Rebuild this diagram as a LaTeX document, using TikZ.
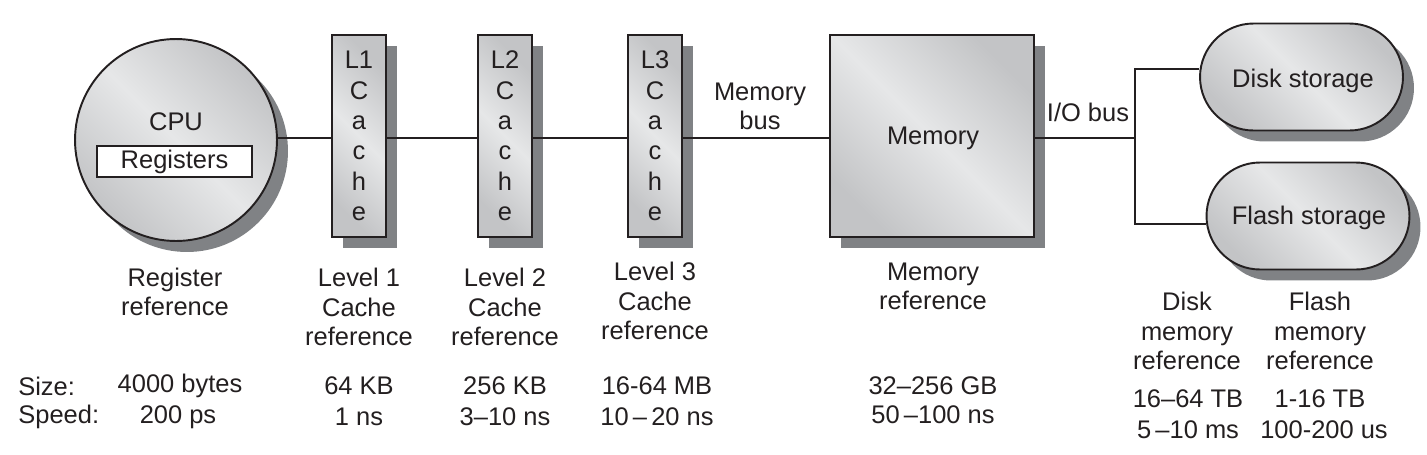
\documentclass[tikz,border=0pt]{standalone}
\usepackage{fontspec}
\setmainfont{Liberation Sans}
\usetikzlibrary{shadows,shapes.misc}
\definecolor{ink}{HTML}{231F20}
\definecolor{shd}{HTML}{808285}
\definecolor{gA}{HTML}{C3C4C6}
\definecolor{gB}{HTML}{E6E7E8}
\begin{document}
\begin{tikzpicture}[x=0.02cm,y=-0.02cm,
  every node/.style={font=\fontsize{14.5}{17.3}\selectfont, text=ink, align=center, inner sep=0pt},
  gshade/.style={draw=ink, line width=1.1pt, left color=gA, right color=gA, middle color=gB, shading angle=135,
    drop shadow={shadow xshift=0.22cm, shadow yshift=-0.22cm, fill=shd, opacity=1}},
  cachebox/.style={gshade, rectangle, minimum width=1.08cm, minimum height=4.04cm},
  storage/.style={gshade, rounded rectangle, minimum width=4.06cm, minimum height=2.14cm},
  wire/.style={draw=ink, line width=1.4pt},
  lbl/.style={font=\fontsize{14.5}{16.6}\selectfont}]
\useasboundingbox (0,0) rectangle (1427,454);
\coordinate (jt) at (1135,69);
\coordinate (jb) at (1135,224);
\coordinate (jm) at (1135,138);
% shapes
\node[gshade, circle, minimum size=4.04cm] (cpu) at (176,140) {};
\node at (176,122) {CPU};
\node[draw=ink, fill=white, line width=1.1pt, minimum width=3.1cm, minimum height=0.62cm] (reg) at (174.5,161.5) {Registers};
\node[cachebox] (l1) at (359,136) {L1\\C\\a\\c\\h\\e};
\node[cachebox] (l2) at (505,136) {L2\\C\\a\\c\\h\\e};
\node[cachebox] (l3) at (655,136) {L3\\C\\a\\c\\h\\e};
\node[gshade, rectangle, minimum width=4.08cm, minimum height=4.04cm] (mem) at (932,136) {};
\node at (933,138) {Memory};
\node[storage] (disk) at (1301.5,77) {};
\node at (1303,81) {Disk storage};
\node[storage] (flash) at (1308,216) {};
\node at (1309,218) {Flash storage};
% wires
\draw[wire] (cpu.east |- 0,138) -- (l1.west |- 0,138);
\draw[wire] (l1.east |- 0,138) -- (l2.west |- 0,138);
\draw[wire] (l2.east |- 0,138) -- (l3.west |- 0,138);
\draw[wire] (l3.east |- 0,138) -- (mem.west |- 0,138);
\draw[wire] (mem.east |- jm) -- (jm);
\draw[wire] (jt -| disk.west) -- (jt) -- (jb) -- (jb -| flash.west);
% bus labels
\node[lbl] (mbus) at (760,106) {Memory\\bus};
\node[lbl] (iobus) at (1088,112) {I/O bus};
% reference labels
\node[lbl] (rr) at (175,292) {Register\\reference};
\node[lbl] (r1) at (359,307) {Level 1\\Cache\\reference};
\node[lbl] (r2) at (505,307) {Level 2\\Cache\\reference};
\node[lbl] (r3) at (655,301) {Level 3\\Cache\\reference};
\node[lbl] (rm) at (933,286) {Memory\\reference};
\node[lbl] (rd) at (1187,331) {Disk\\memory\\reference};
\node[lbl] (rf) at (1320,331) {Flash\\memory\\reference};
% size / speed
\node[anchor=west] (size) at (18,386) {Size:};
\node[anchor=west] (speed) at (18,417) {Speed:};
\node (s0) at (180,386) {4000 bytes};
\node (v0) at (178,417) {200 ps};
\node (s1) at (359,386) {64 KB};
\node (v1) at (359,417) {1 ns};
\node (s2) at (505,386) {256 KB};
\node (v2) at (505,417) {3–10 ns};
\node (s3) at (657,386) {16-64 MB};
\node (v3) at (657,417) {10\,–\,20 ns};
\node (s4) at (933,386) {32–256 GB};
\node (v4) at (933,415) {50\,–100 ns};
\node (s5) at (1188,399) {16–64 TB};
\node (v5) at (1188,430) {5\,–10 ms};
\node (s6) at (1320,399) {1-16 TB};
\node (v6) at (1324,430) {100-200 us};
\end{tikzpicture}
\end{document}
